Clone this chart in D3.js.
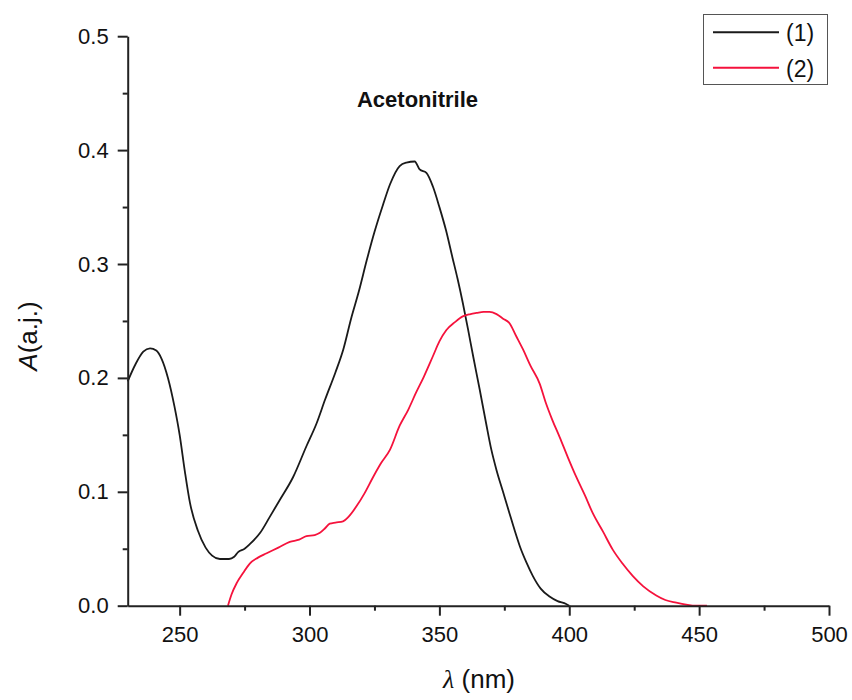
<!DOCTYPE html>
<html>
<head>
<meta charset="utf-8">
<script src="https://cdn.jsdelivr.net/npm/d3@7"></script>
<style>
	body { margin: 0; background: #fff; }
	svg { display: block; font-family: "Liberation Sans", Arial, sans-serif; }
</style>
</head>
<body>
<div id="chart"></div>
<script>
// absorbance spectra: wavelength (nm) and A
var series1Nm = [230, 233, 236, 238.6, 241, 243, 245.5, 248, 250, 252, 254, 257, 260, 262.5, 265.5, 269, 271, 272.5, 275, 277,
	281, 284.7, 288.6, 293.7, 298.8, 302.7, 306, 310, 313, 316, 319, 322, 325, 328.3, 331, 334.7, 337.3, 340.5, 342.4, 345,
	347.5, 350, 352.5, 355, 357, 359, 361, 363, 365.5, 368, 370, 372, 374.5, 377, 379, 381, 383.5, 386, 389, 392.4,
	395.5, 398.8, 400];
var series1A = [0.197, 0.212, 0.223, 0.226, 0.224, 0.217, 0.200, 0.175, 0.150, 0.118, 0.090, 0.066, 0.051, 0.044, 0.041, 0.041, 0.043, 0.047, 0.050, 0.054,
	0.064, 0.078, 0.093, 0.113, 0.140, 0.160, 0.181, 0.205, 0.225, 0.252, 0.276, 0.303, 0.328, 0.352, 0.370, 0.386, 0.389, 0.390, 0.383, 0.380,
	0.368, 0.350, 0.330, 0.306, 0.287, 0.266, 0.243, 0.219, 0.190, 0.160, 0.137, 0.119, 0.100, 0.081, 0.066, 0.052, 0.038, 0.026, 0.015, 0.008,
	0.004, 0.0015, 0];

var series2Nm = [268.6, 270, 272, 274.5, 277, 280, 283.5, 288, 292.4, 296, 298.8, 302, 304, 306, 307.8, 310, 312.9, 315, 318, 321,
	324.5, 327.5, 331, 334.7, 338, 341, 344, 347.5, 350, 352.7, 356, 359, 362, 364.3, 367, 369.3, 372, 374.5, 377, 379.5,
	382.2, 385, 388.6, 391, 393.5, 396.3, 399.5, 402.7, 406, 409.1, 413, 416.8, 420.5, 424.5, 428.5, 433.5, 437, 441.2, 445, 448.8,
	453];
var series2A = [0, 0.010, 0.020, 0.029, 0.037, 0.042, 0.046, 0.051, 0.056, 0.058, 0.061, 0.062, 0.064, 0.068, 0.072, 0.073, 0.074, 0.078, 0.087, 0.098,
	0.113, 0.125, 0.137, 0.158, 0.172, 0.187, 0.201, 0.219, 0.232, 0.242, 0.249, 0.254, 0.256, 0.257, 0.258, 0.258, 0.256, 0.252, 0.248, 0.237,
	0.225, 0.211, 0.195, 0.178, 0.163, 0.148, 0.130, 0.113, 0.097, 0.081, 0.065, 0.049, 0.037, 0.026, 0.017, 0.009, 0.005, 0.0027, 0.001, 0,
	0];

var seriesNames = ['(1)', '(2)'];
var seriesColors = ['#1a1a1a', '#f5123c'];
var xTicks = [250, 300, 350, 400, 450, 500];
var xMinorTicks = [275, 325, 375, 425, 475];
var yTicks = [0.0, 0.1, 0.2, 0.3, 0.4, 0.5];
var yMinorTicks = [0.05, 0.15, 0.25, 0.35, 0.45];

(function () {
	var width = 852;
	var height = 700;
	var plot = { left: 127.7, right: 829, top: 36.2, bottom: 605.7 };

	var x = d3.scaleLinear().domain([230, 500]).range([plot.left, plot.right]);
	var y = d3.scaleLinear().domain([0, 0.5]).range([plot.bottom, plot.top]);

	var svg = d3.select('#chart').append('svg')
		.attr('width', width).attr('height', height);

	var data = [
		d3.zip(series1Nm, series1A),
		d3.zip(series2Nm, series2A)
	];

	var line = d3.line()
		.x(d => x(d[0]))
		.y(d => y(d[1]))
		.curve(d3.curveMonotoneX);

	svg.selectAll('path.spectrum')
		.data(data)
		.enter().append('path')
		.attr('class', 'spectrum')
		.attr('fill', 'none')
		.attr('stroke', (d, i) => seriesColors[i])
		.attr('stroke-width', 1.8)
		.attr('stroke-linejoin', 'round')
		.attr('d', line);

	// axes: majors with labels, minors without
	svg.append('g')
		.attr('transform', 'translate(0,' + plot.bottom + ')')
		.call(d3.axisBottom(x).tickValues(xTicks).tickSize(10).tickSizeOuter(0).tickPadding(11)
			.tickFormat(d3.format('d')));
	svg.append('g')
		.attr('transform', 'translate(0,' + plot.bottom + ')')
		.call(d3.axisBottom(x).tickValues(xMinorTicks).tickSize(5).tickSizeOuter(0).tickFormat(''))
		.select('.domain').remove();

	svg.append('g')
		.attr('transform', 'translate(' + plot.left + ',0)')
		.call(d3.axisLeft(y).tickValues(yTicks).tickSize(10).tickSizeOuter(0).tickPadding(9)
			.tickFormat(d3.format('.1f')));
	svg.append('g')
		.attr('transform', 'translate(' + plot.left + ',0)')
		.call(d3.axisLeft(y).tickValues(yMinorTicks).tickSize(5).tickSizeOuter(0).tickFormat(''))
		.select('.domain').remove();

	svg.selectAll('.domain, .tick line')
		.attr('stroke', '#222')
		.attr('stroke-width', 2);
	svg.selectAll('.tick text')
		.attr('fill', '#111')
		.style('font-family', '"Liberation Sans", Arial, sans-serif')
		.style('font-size', '22px');

	// axis titles
	var xTitle = svg.append('text')
		.attr('x', 479).attr('y', 688)
		.attr('text-anchor', 'middle')
		.style('font-size', '26px')
		.attr('fill', '#111');
	xTitle.append('tspan').style('font-style', 'italic').style('font-family', '"Liberation Serif", serif').text('\u03bb');
	xTitle.append('tspan').text(' (nm)');

	var yTitle = svg.append('text')
		.attr('transform', 'translate(37,336) rotate(-90)')
		.attr('text-anchor', 'middle')
		.style('font-size', '26px')
		.attr('fill', '#111');
	yTitle.append('tspan').style('font-style', 'italic').text('A');
	yTitle.append('tspan').text('(a.j.)');

	svg.append('text')
		.attr('x', 417.5).attr('y', 106.5)
		.attr('text-anchor', 'middle')
		.style('font-size', '22px')
		.style('font-weight', 'bold')
		.attr('fill', '#111')
		.text('Acetonitrile');

	// legend
	var legend = svg.append('g');
	legend.append('rect')
		.attr('x', 703.5).attr('y', 14.5)
		.attr('width', 124).attr('height', 70)
		.attr('fill', '#fff')
		.attr('stroke', '#555')
		.attr('stroke-width', 1);

	var items = legend.selectAll('g.item')
		.data(seriesNames)
		.enter().append('g')
		.attr('class', 'item')
		.attr('transform', (d, i) => 'translate(0,' + (32.3 + i * 35.4) + ')');
	items.append('line')
		.attr('x1', 713).attr('x2', 779)
		.attr('stroke', (d, i) => seriesColors[i])
		.attr('stroke-width', 2);
	items.append('text')
		.attr('x', 786).attr('y', 9)
		.style('font-size', '23px')
		.attr('fill', '#111')
		.text(d => d);
})();
</script>
</body>
</html>
